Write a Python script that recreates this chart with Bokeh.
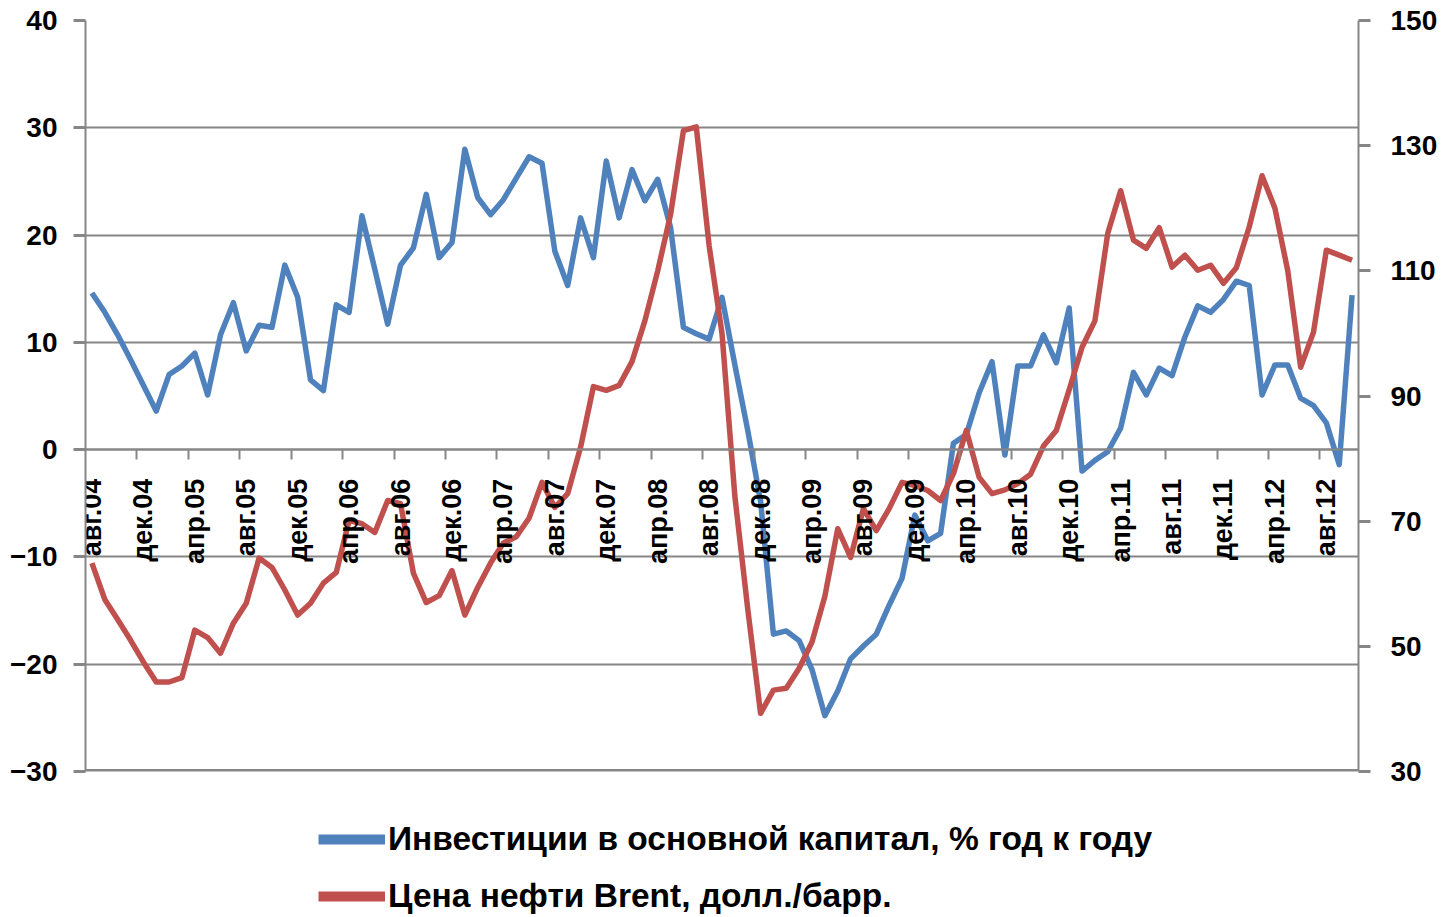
import math
from bokeh.plotting import figure
from bokeh.layouts import column
from bokeh.models import Range1d, LinearAxis, FixedTicker, Span, Legend, LegendItem
from bokeh.embed import file_html
from bokeh.resources import INLINE

# Category tick labels (every 4th month, starting Aug 2004)
tick_labels = ["авг.04", "дек.04", "апр.05", "авг.05", "дек.05", "апр.06", "авг.06",
               "дек.06", "апр.07", "авг.07", "дек.07", "апр.08", "авг.08", "дек.08",
               "апр.09", "авг.09", "дек.09", "апр.10", "авг.10", "дек.10", "апр.11",
               "авг.11", "дек.11", "апр.12", "авг.12"]

# Investment in fixed capital, % y/y (monthly, Aug 2004 - Oct 2012)
investment = [14.6, 12.8, 10.7, 8.4, 6.0, 3.6, 7.0, 7.8, 9.0, 5.1,
              10.7, 13.7, 9.2, 11.6, 11.4, 17.2, 14.2, 6.5, 5.5, 13.5,
              12.8, 21.8, 16.8, 11.7, 17.2, 18.8, 23.8, 17.9, 19.3, 28.0,
              23.5, 21.9, 23.3, 25.3, 27.3, 26.7, 18.5, 15.3, 21.6, 17.9,
              26.9, 21.6, 26.1, 23.2, 25.2, 20.7, 11.4, 10.8, 10.3, 14.2,
              7.9, 1.8, -4.8, -17.2, -16.9, -17.8, -20.5, -24.8, -22.5, -19.5,
              -18.3, -17.2, -14.5, -12.0, -6.1, -8.5, -7.8, 0.6, 1.4, 5.3,
              8.2, -0.5, 7.8, 7.8, 10.7, 8.1, 13.2, -2.0, -1.0, -0.2,
              2.0, 7.2, 5.1, 7.6, 6.9, 10.5, 13.4, 12.8, 14.0, 15.7,
              15.3, 5.1, 7.9, 7.9, 4.8, 4.1, 2.5, -1.4, 14.4]

# Brent oil price, USD/bbl (monthly, Aug 2004 - Oct 2012)
brent = [63.3, 57.5, 54.3, 51.0, 47.5, 44.3, 44.3, 45.0, 52.6, 51.4,
         48.9, 53.7, 56.9, 64.1, 62.6, 59.0, 55.0, 56.9, 60.1, 61.8,
         70.1, 69.6, 68.2, 73.3, 72.8, 61.7, 57.0, 58.1, 62.1, 55.0,
         59.4, 63.3, 66.5, 67.5, 70.5, 76.2, 72.2, 74.4, 81.8, 91.5,
         90.9, 91.7, 95.5, 102.0, 110.0, 119.0, 132.4, 133.0, 114.0, 100.0,
         74.0, 56.0, 39.3, 43.0, 43.3, 46.5, 50.7, 58.0, 68.8, 64.2,
         72.0, 68.5, 72.0, 76.2, 75.7, 74.9, 73.3, 77.6, 84.5, 77.0,
         74.4, 75.0, 76.0, 77.5, 82.0, 84.5, 91.0, 97.8, 102.0, 116.0,
         122.8, 114.9, 113.6, 116.9, 110.6, 112.5, 110.1, 110.9, 108.0, 110.5,
         117.0, 125.2, 120.0, 110.0, 94.6, 100.2, 113.3, 112.5, 111.7]

left_ticks = [-30, -20, -10, 0, 10, 20, 30, 40]
right_ticks = [30, 50, 70, 90, 110, 130, 150]

series_names = ["Инвестиции в основной капитал, % год к году",
                "Цена нефти Brent, долл./барр."]

n = len(investment)
xs = list(range(n))
label_pos = [4 * k for k in range(len(tick_labels))]
boundaries = [4 * k - 0.5 for k in range(1, len(tick_labels))]

GRAY = "#868686"
FONT = "Liberation Sans"
BLUE = "#4F81BD"
RED = "#C0504D"

MAIN_H = 790
p = figure(width=1449, height=MAIN_H, x_range=Range1d(-0.5, n - 0.5),
           y_range=Range1d(left_ticks[0], left_ticks[-1]),
           output_backend="svg", toolbar_location=None, title=None,
           min_border_left=85, min_border_right=91, min_border_top=20,
           min_border_bottom=MAIN_H - 771)
p.extra_y_ranges = {"right": Range1d(right_ticks[0], right_ticks[-1])}
p.outline_line_color = None
p.background_fill_color = "white"
p.border_fill_color = "white"

p.xgrid.visible = False
p.ygrid.ticker = FixedTicker(ticks=left_ticks)
p.ygrid.grid_line_color = GRAY
p.ygrid.grid_line_width = 2

# Left axis
ya = p.yaxis[0]
ya.ticker = FixedTicker(ticks=left_ticks)
ya.axis_line_color = GRAY
ya.axis_line_width = 2
ya.major_tick_out = 12
ya.major_tick_in = 0
ya.major_tick_line_color = GRAY
ya.major_tick_line_width = 3
ya.minor_tick_out = 0
ya.minor_tick_in = 0
ya.major_label_standoff = 16
ya.major_label_text_font = FONT
ya.major_label_text_font_size = "28px"
ya.major_label_text_font_style = "bold"
ya.major_label_text_color = "black"

# Right axis
ra = LinearAxis(y_range_name="right", ticker=FixedTicker(ticks=right_ticks))
ra.axis_line_color = GRAY
ra.axis_line_width = 2
ra.major_tick_out = 12
ra.major_tick_in = 0
ra.major_tick_line_color = GRAY
ra.major_tick_line_width = 3
ra.minor_tick_out = 0
ra.minor_tick_in = 0
ra.major_label_standoff = 20
ra.major_label_text_font = FONT
ra.major_label_text_font_size = "28px"
ra.major_label_text_font_style = "bold"
ra.major_label_text_color = "black"
p.add_layout(ra, "right")

# Category axis crossing at zero
xa = p.xaxis[0]
xa.fixed_location = 0
xa.ticker = FixedTicker(ticks=label_pos, minor_ticks=boundaries)
xa.major_label_overrides = {pos: lab for pos, lab in zip(label_pos, tick_labels)}
xa.major_label_orientation = math.pi / 2
xa.axis_line_color = GRAY
xa.axis_line_width = 2
xa.major_tick_out = 0
xa.major_tick_in = 0
xa.minor_tick_out = 10
xa.minor_tick_in = 0
xa.minor_tick_line_color = GRAY
xa.minor_tick_line_width = 2
xa.major_label_standoff = 19
xa.major_label_text_font = FONT
xa.major_label_text_font_size = "27px"
xa.major_label_text_font_style = "bold"
xa.major_label_text_color = "black"

p.add_layout(Span(location=left_ticks[0], dimension="width",
                  line_color=GRAY, line_width=5))

p.line(xs, investment, line_color=BLUE, line_width=5.5, line_join="round")
p.line(xs, brent, y_range_name="right", line_color=RED, line_width=5.5,
       line_join="round")

# Legend area (separate strip under the chart; its frame is aligned with the chart's)
LEG_H = 917 - MAIN_H
q = figure(width=1449, height=LEG_H, x_range=Range1d(0, 1), y_range=Range1d(0, 1),
           output_backend="svg", toolbar_location=None, title=None,
           x_axis_type=None, y_axis_type=None,
           min_border_left=0, min_border_right=0, min_border_top=0,
           min_border_bottom=0)
q.outline_line_color = None
q.grid.visible = False
q.background_fill_color = "white"
q.border_fill_color = "white"
# proxy renderers lie outside the visible range; only their legend glyphs show
lb = q.line([5, 6], [5, 6], line_color=BLUE, line_width=10)
lr = q.line([5, 6], [5, 6], line_color=RED, line_width=10)
legend = Legend(items=[LegendItem(label=series_names[0], renderers=[lb]),
                       LegendItem(label=series_names[1], renderers=[lr])],
                location=(233, 2), orientation="vertical",
                glyph_width=67, glyph_height=20, label_standoff=3,
                spacing=19, padding=0, margin=0,
                border_line_color=None, background_fill_alpha=0,
                label_text_font=FONT, label_text_font_size="33.5px",
                label_text_font_style="bold", label_text_color="black")
q.add_layout(legend)

open("out.html", "w").write(file_html(column(p, q, spacing=0), INLINE))
